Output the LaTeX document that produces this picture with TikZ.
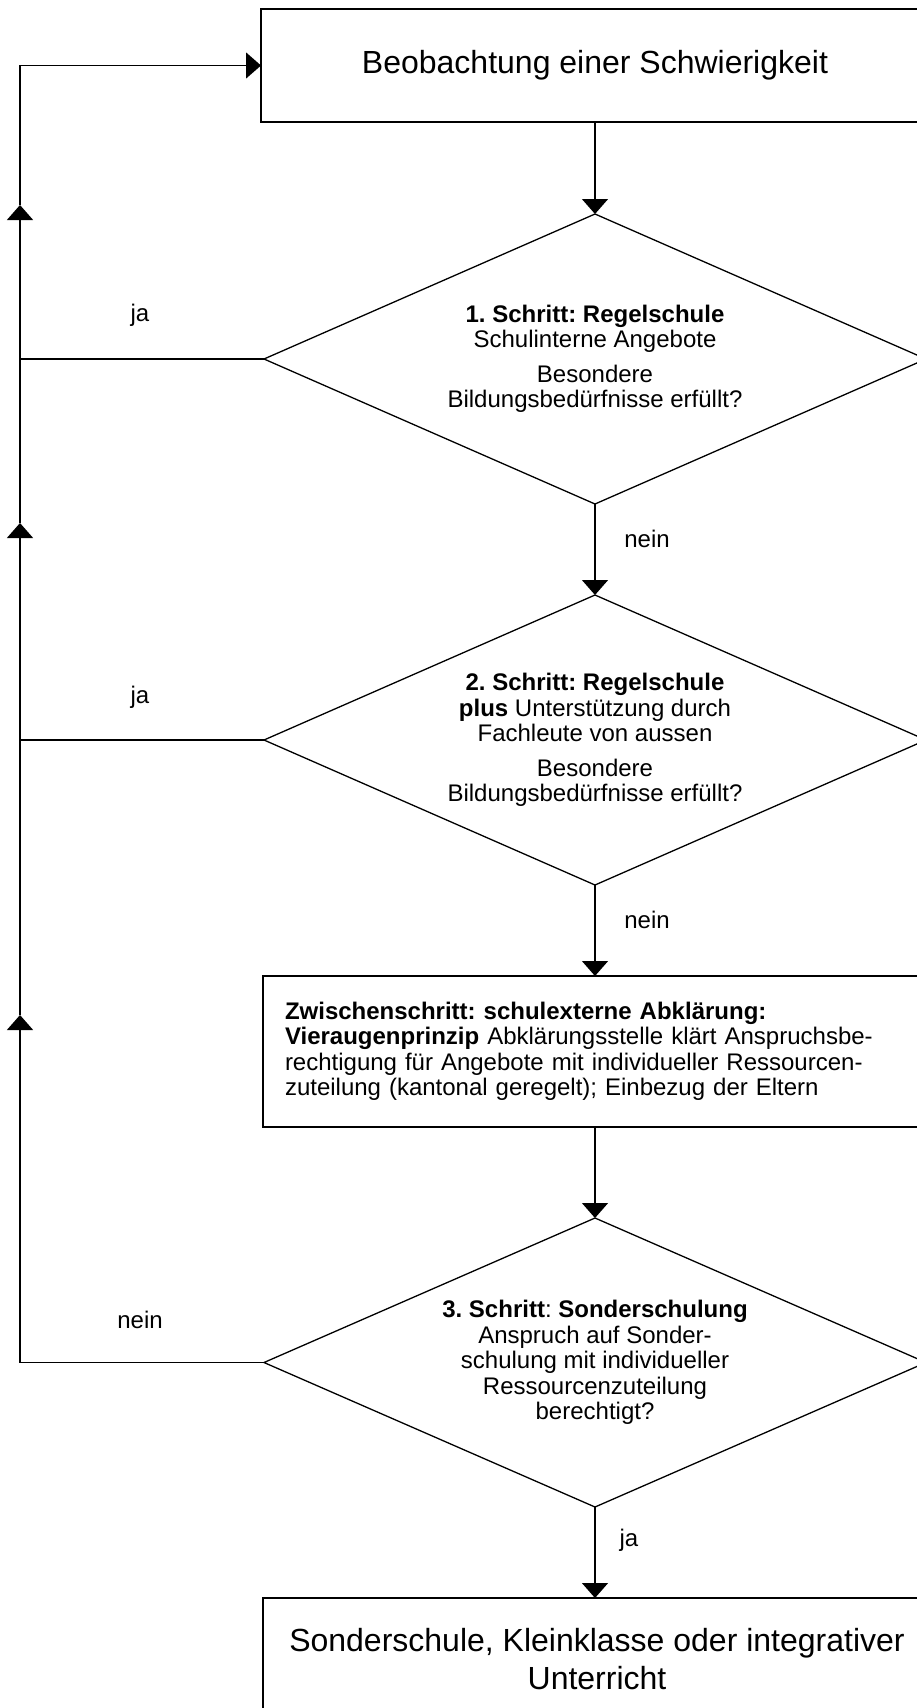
\documentclass[tikz,border=0pt]{standalone}
\usepackage{fontspec}
\setmainfont{Liberation Sans}
\usetikzlibrary{shapes.geometric,arrows.meta}
\newcommand{\bigfnt}{\fontsize{32}{38}\selectfont}
\newcommand{\medfnt}{\fontsize{24}{25.5}\selectfont}
\frenchspacing
\begin{document}
\begin{tikzpicture}[x=1pt,y=-1pt,
  box/.style={draw, line width=1.6pt, inner sep=0pt, outer sep=0pt, minimum width=668pt},
  diam/.style={draw, diamond, aspect=2.283, line width=1.3pt, inner sep=0pt, outer sep=0pt, minimum width=662pt, minimum height=290pt, align=center, font=\medfnt},
  conn/.style={line width=1.4pt},
  arr/.style={line width=1.4pt, -{Triangle[width=26pt,length=15pt]}},
  lbl/.style={font=\medfnt, inner sep=0pt}
]
\useasboundingbox (0,0) rectangle (917,1708);
\clip (0,0) rectangle (917,1708);
\fill[white] (0,0) rectangle (917,1708);

\node[box, minimum height=113pt, font=\bigfnt] (b1) at (595,65.5) {Beobachtung einer Schwierigkeit};
\node[diam] (d1) at (595,359) {\textbf{1. Schritt: Regelschule}\\Schulinterne Angebote\\[9pt]Besondere\\Bildungsbedürfnisse erfüllt?};
\node[diam] (d2) at (595,740) {\textbf{2. Schritt: Regelschule}\\\textbf{plus} Unterstützung durch\\Fachleute von aussen\\[9pt]Besondere\\Bildungsbedürfnisse erfüllt?};
\node[box, minimum height=151pt, text width=624pt, inner xsep=22pt, align=left, font=\medfnt] (b3) at (597,1051.5) {\textbf{Zwischenschritt: schulexterne Abklärung:}\\\textbf{Vieraugenprinzip} Abklärungsstelle klärt Anspruchsbe-\\rechtigung für Angebote mit individueller Ressourcen-\\zuteilung (kantonal geregelt); Einbezug der Eltern};
\node[diam, minimum height=289pt] (d3) at (595,1362.5) {\textbf{3. Schritt}: \textbf{Sonderschulung}\\Anspruch auf Sonder-\\schulung mit individueller\\Ressourcenzuteilung\\berechtigt?};
\node[box, minimum height=122pt, align=center, font=\bigfnt] (b4) at (597,1659) {Sonderschule, Kleinklasse oder integrativer\\Unterricht};

\node[lbl] (ja1) at (140,315) {ja};
\node[lbl] (ja2) at (140,697) {ja};
\node[lbl] (nein3) at (140,1320) {nein};
\node[lbl] (nein1) at (647,539) {nein};
\node[lbl] (nein2) at (647,920) {nein};
\node[lbl] (ja3) at (629,1540) {ja};

\draw[arr] (b1.south) -- (d1.north);
\draw[arr] (d1.south) -- (d2.north);
\draw[arr] (d2.south) -- (d2.south |- b3.north);
\draw[arr] (d3.north |- b3.south) -- (d3.north);
\draw[arr] (d3.south) -- (d3.south |- b4.north);

\coordinate (L3) at (20,1362.5);
\coordinate (T3) at (20,1015);
\coordinate (L2) at (20,740);
\coordinate (T2) at (20,523);
\coordinate (L1) at (20,359);
\coordinate (T1) at (20,205);
\coordinate (L0) at (20,65.5);

\draw[arr] (d3.west) -- (L3) -- (T3);
\draw[conn] (T3) -- (L2);
\draw[conn] (d2.west) -- (L2);
\draw[arr] (L2) -- (T2);
\draw[conn] (T2) -- (L1);
\draw[conn] (d1.west) -- (L1);
\draw[arr] (L1) -- (T1);
\draw[arr] (T1) -- (L0) -- (b1.west);
\end{tikzpicture}
\end{document}
